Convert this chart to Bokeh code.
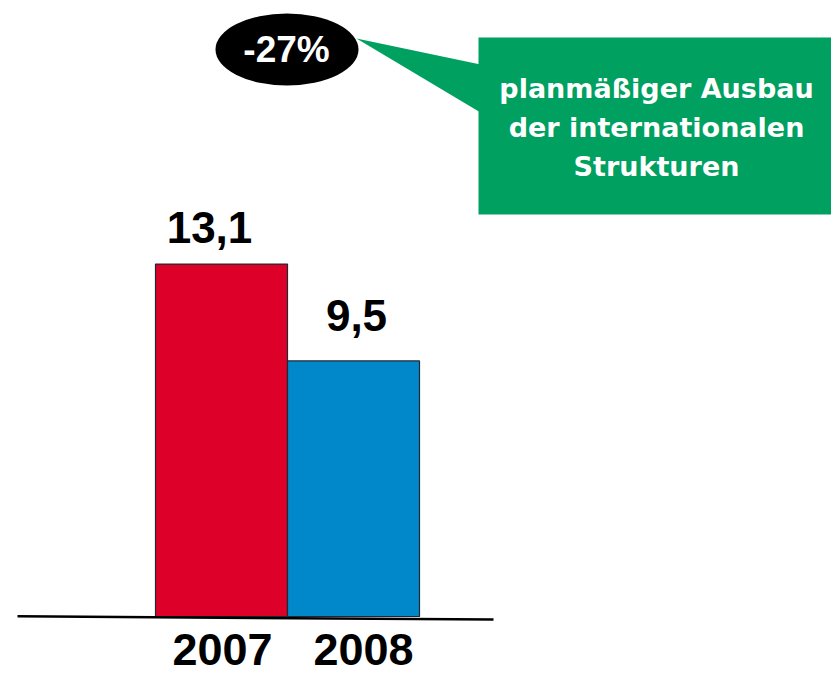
from bokeh.plotting import figure
from bokeh.models import Range1d
from bokeh.core.properties import value
from bokeh.embed import file_html
from bokeh.resources import INLINE

# ---- data ----
years = ["2007", "2008"]
revenue = [13.1, 9.5]
value_labels = ["13,1", "9,5"]
bar_colors = ["#DD0029", "#0088CA"]
change_label = "-27%"
note_lines = ["planmäßiger Ausbau", "der internationalen", "Strukturen"]

# ---- layout (reference pixel coordinates) ----
W, H = 831, 676
X0, Y0 = 0, 0
base_px = 616                 # screen y of value 0
px_per_unit = 26.9
bar_left, bar_w = 155, 132
label_gap = [20, 29]
label_dx = [-12, 3]
year_dx = [1, 10]
year_base = 666
BL = 0.38                     # baseline correction (fraction of font size)

centers = [bar_left + bar_w * (i + 0.5) for i in range(len(years))]

p = figure(width=W, height=H, output_backend="svg", toolbar_location=None,
           x_range=Range1d(X0, X0 + W),
           y_range=Range1d(-(Y0 + H - base_px) / px_per_unit, (base_px - Y0) / px_per_unit),
           x_axis_location=None, y_axis_location=None, min_border=0,
           outline_line_color=None, background_fill_color="white",
           border_fill_color="white")
p.grid.visible = False
p.extra_y_ranges = {"px": Range1d(Y0 + H, Y0)}

# bars
p.vbar(x=centers, top=revenue, bottom=0, width=bar_w, fill_color=bar_colors,
       line_color="#1e2a33", line_width=1.2)

# baseline
p.line(x=[17, 493], y=[615.8, 619], line_color="black", line_width=2.5, y_range_name="px")

# value labels
fs = 44
for i, (c, v, t) in enumerate(zip(centers, revenue, value_labels)):
    p.text(x=[c + label_dx[i]], y=[v], text=[t], y_offset=-(label_gap[i] + BL * fs),
           text_align="center", text_baseline="alphabetic",
           text_font=value("Liberation Sans"), text_font_style="bold",
           text_font_size=f"{fs}px", text_color="black")

# year labels
fs = 45
for i, (c, t) in enumerate(zip(centers, years)):
    p.text(x=[c + year_dx[i]], y=[year_base - BL * fs], text=[t], y_range_name="px",
           text_align="center", text_baseline="alphabetic",
           text_font=value("Liberation Sans"), text_font_style="bold",
           text_font_size=f"{fs}px", text_color="black")

# green callout
green = "#00A060"
p.patch(x=[356, 480, 480], y=[38, 64, 112], fill_color=green, line_color=None,
        y_range_name="px")
p.quad(left=[478], right=[831], top=[37], bottom=[214], fill_color=green,
       line_color=None, y_range_name="px")
fs = 27
for t, yb in zip(note_lines, [98, 137, 176]):
    p.text(x=[656], y=[yb - BL * fs], text=[t], y_range_name="px",
           text_align="center", text_baseline="alphabetic",
           text_font=value("DejaVu Sans"), text_font_style="bold",
           text_font_size=f"{fs}px", text_color="white")

# black ellipse with change
p.ellipse(x=[286.5], y=[49], width=143, height=72, fill_color="black",
          line_color=None, y_range_name="px")
fs = 37
p.text(x=[286], y=[63 - BL * fs], text=[change_label], y_range_name="px",
       text_align="center", text_baseline="alphabetic",
       text_font=value("Liberation Sans"), text_font_style="bold",
       text_font_size=f"{fs}px", text_color="white")

open("out.html", "w").write(file_html(p, INLINE))
